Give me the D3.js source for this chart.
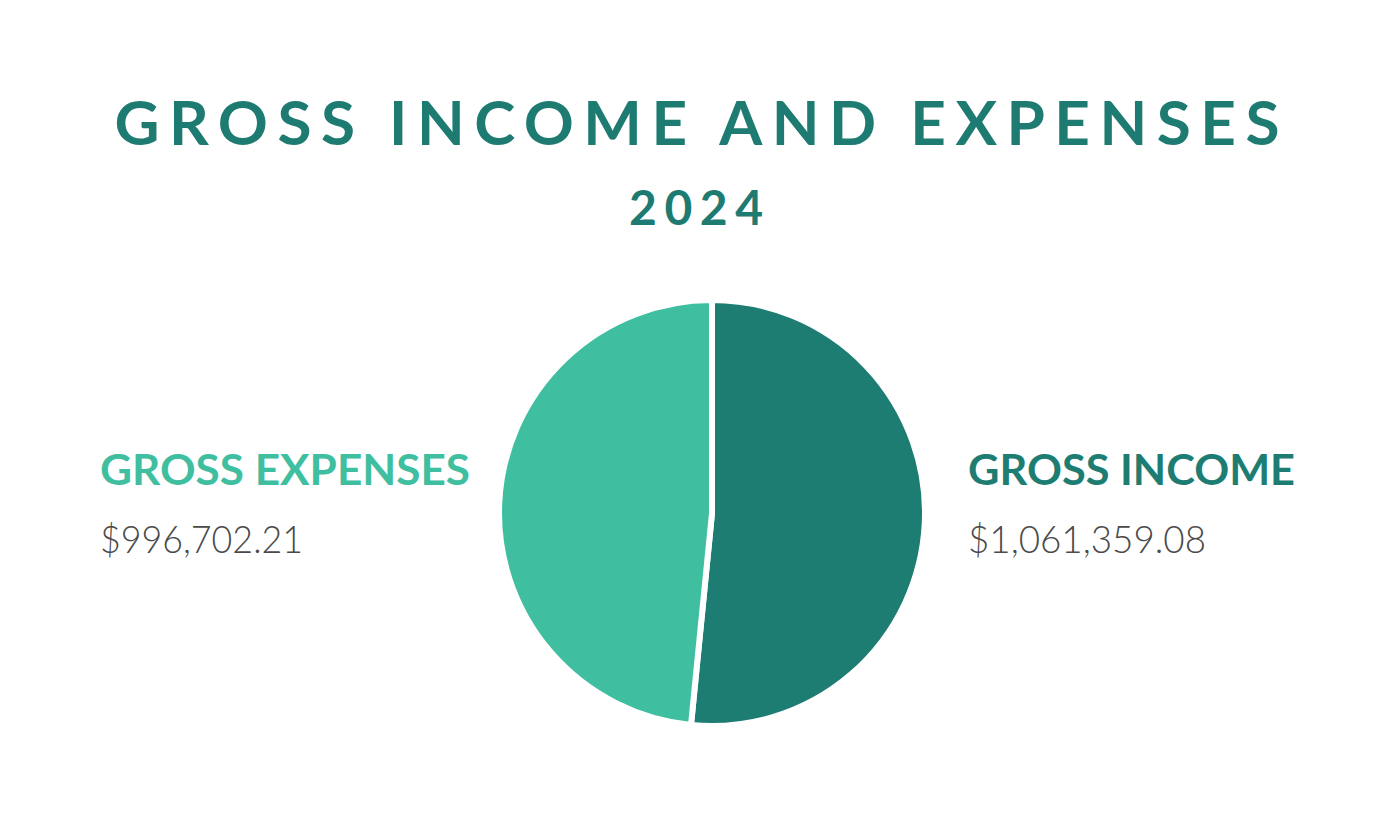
<!DOCTYPE html>
<html><head><meta charset="utf-8">
<script src="https://cdn.jsdelivr.net/npm/d3@7/dist/d3.min.js"></script>
<style>body{margin:0;background:#fff}</style>
</head><body>
<svg id="c" width="1395" height="832"></svg>
<script>
const categories = ["GROSS INCOME", "GROSS EXPENSES"];
const values = [1061359.08, 996702.21];
const valueLabels = ["$1,061,359.08", "$996,702.21"];
const colors = ["#1e7d73", "#40bea0"];
const title = "GROSS INCOME AND EXPENSES";
const subtitle = "2024";

const svg = d3.select("#c");
const cx = 712, cy = 513, r = 213;

svg.append("text").attr("x", 697).attr("y", 145).attr("text-anchor", "middle")
  .attr("font-family", "Lato").attr("font-weight", 700).attr("font-size", 62)
  .attr("fill", "#1e7b72").attr("textLength", 1165).attr("lengthAdjust", "spacing")
  .text(title);
svg.append("text").attr("x", 696).attr("y", 225).attr("text-anchor", "middle")
  .attr("font-family", "Lato").attr("font-weight", 700).attr("font-size", 48)
  .attr("fill", "#1e7b72").attr("textLength", 134).attr("lengthAdjust", "spacing")
  .text(subtitle);

const pie = d3.pie().sort(null).value(d => d);
const arc = d3.arc().innerRadius(0).outerRadius(r);
const g = svg.append("g").attr("transform", `translate(${cx},${cy})`);
g.selectAll("path").data(pie(values)).join("path")
  .attr("d", arc).attr("fill", (d, i) => colors[i])
  .attr("stroke", "#fff").attr("stroke-width", 6).attr("stroke-linejoin", "round");

const labelPos = [{x: 968, w: 327, vw: 238}, {x: 100, w: 370, vw: 203}];
categories.forEach((c, i) => {
  svg.append("text").attr("x", labelPos[i].x).attr("y", 485)
    .attr("font-family", "Lato").attr("font-weight", 700).attr("font-size", 42)
    .attr("fill", colors[i]).attr("textLength", labelPos[i].w).attr("lengthAdjust", "spacingAndGlyphs")
    .text(c);
  svg.append("text").attr("x", labelPos[i].x).attr("y", 553)
    .attr("font-family", "Lato").attr("font-weight", 300).attr("font-size", 38)
    .attr("fill", "#4a4a4a").attr("textLength", labelPos[i].vw).attr("lengthAdjust", "spacingAndGlyphs")
    .text(valueLabels[i]);
});
</script>
</body></html>
